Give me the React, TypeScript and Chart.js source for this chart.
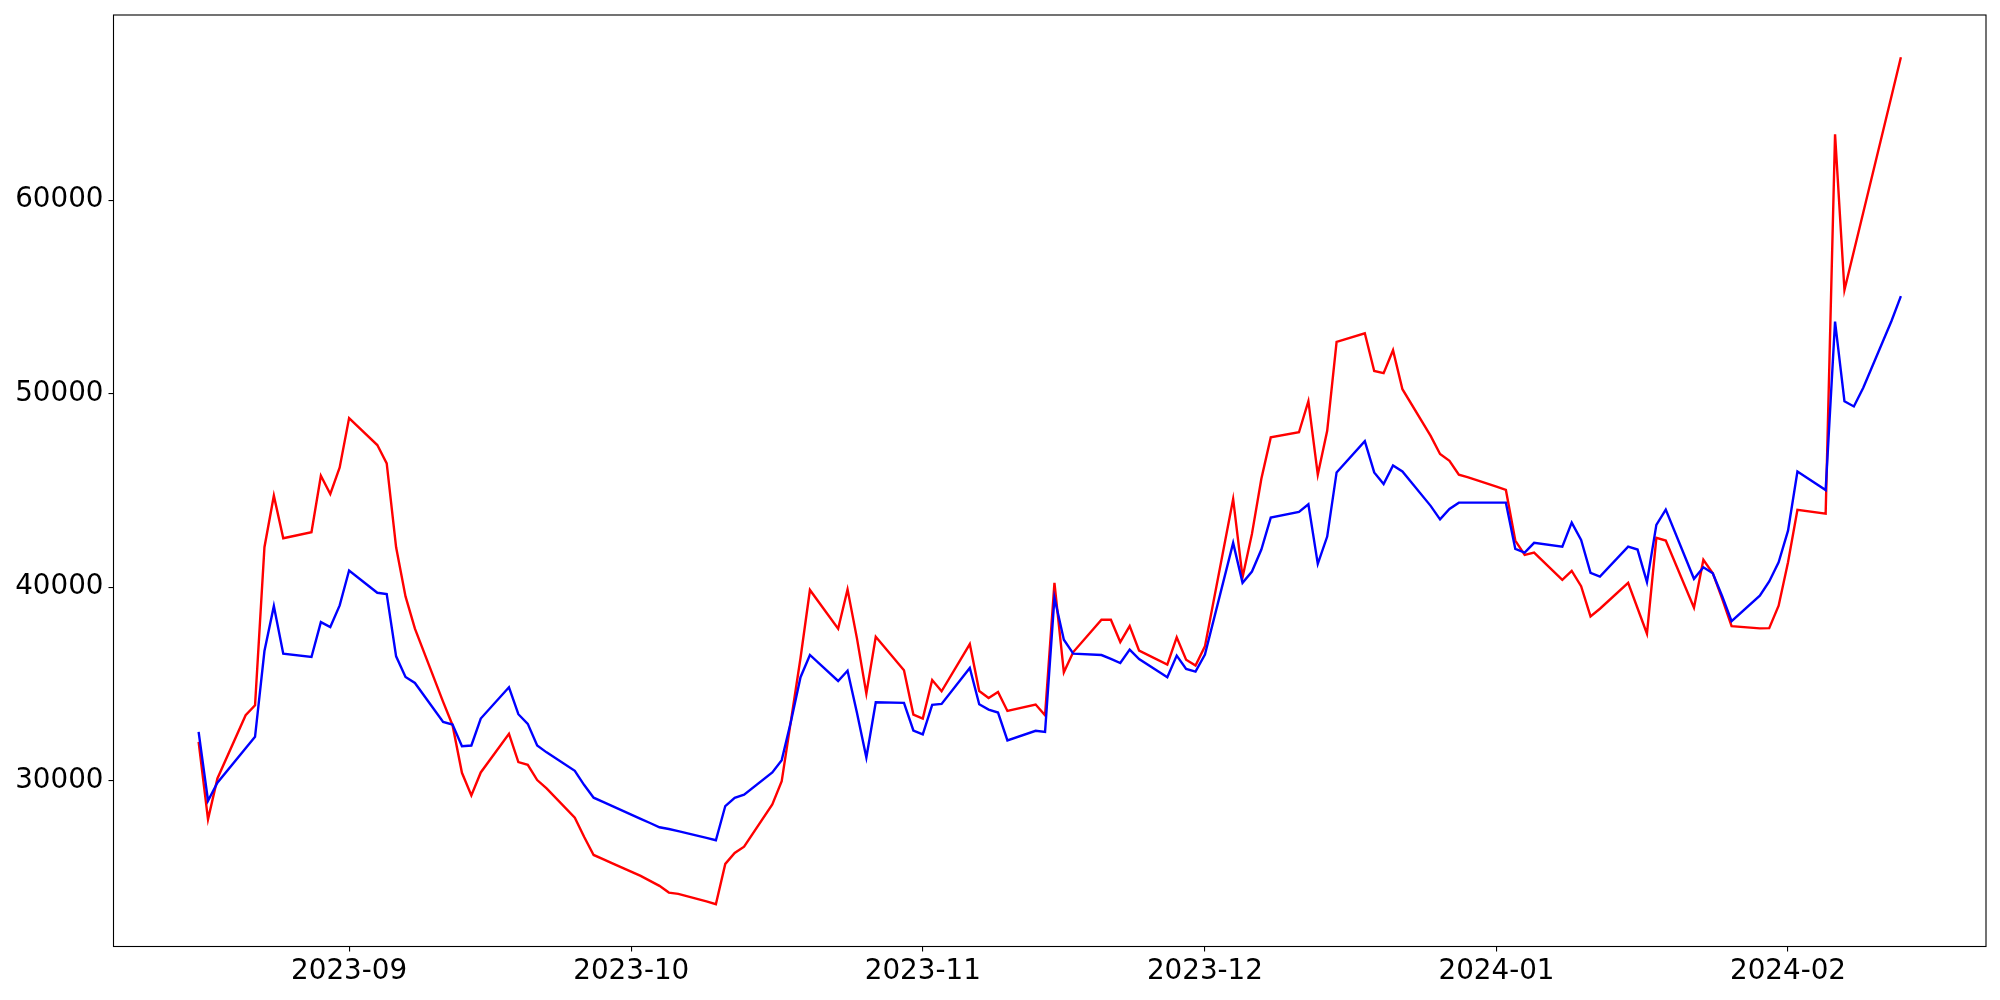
import React, { useEffect, useRef } from 'react';
import { Chart, registerables } from 'chart.js';

Chart.register(...registerables);

const dates = [
  '2023-08-16', '2023-08-17', '2023-08-18', '2023-08-21', '2023-08-22', '2023-08-23', '2023-08-24', '2023-08-25',
  '2023-08-28', '2023-08-29', '2023-08-30', '2023-08-31', '2023-09-01', '2023-09-04', '2023-09-05', '2023-09-06',
  '2023-09-07', '2023-09-08', '2023-09-11', '2023-09-12', '2023-09-13', '2023-09-14', '2023-09-15', '2023-09-18',
  '2023-09-19', '2023-09-20', '2023-09-21', '2023-09-22', '2023-09-25', '2023-09-26', '2023-09-27', '2023-09-28',
  '2023-09-29', '2023-10-02', '2023-10-03', '2023-10-04', '2023-10-05', '2023-10-06', '2023-10-09', '2023-10-10',
  '2023-10-11', '2023-10-12', '2023-10-13', '2023-10-16', '2023-10-17', '2023-10-18', '2023-10-19', '2023-10-20',
  '2023-10-23', '2023-10-24', '2023-10-25', '2023-10-26', '2023-10-27', '2023-10-30', '2023-10-31', '2023-11-01',
  '2023-11-02', '2023-11-03', '2023-11-06', '2023-11-07', '2023-11-08', '2023-11-09', '2023-11-10', '2023-11-13',
  '2023-11-14', '2023-11-15', '2023-11-16', '2023-11-17', '2023-11-20', '2023-11-21', '2023-11-22', '2023-11-23',
  '2023-11-24', '2023-11-27', '2023-11-28', '2023-11-29', '2023-11-30', '2023-12-01', '2023-12-04', '2023-12-05',
  '2023-12-06', '2023-12-07', '2023-12-08', '2023-12-11', '2023-12-12', '2023-12-13', '2023-12-14', '2023-12-15',
  '2023-12-18', '2023-12-19', '2023-12-20', '2023-12-21', '2023-12-22', '2023-12-25', '2023-12-26', '2023-12-27',
  '2023-12-28', '2023-12-29', '2024-01-01', '2024-01-02', '2024-01-03', '2024-01-04', '2024-01-05', '2024-01-08',
  '2024-01-09', '2024-01-10', '2024-01-11', '2024-01-12', '2024-01-15', '2024-01-16', '2024-01-17', '2024-01-18',
  '2024-01-19', '2024-01-22', '2024-01-23', '2024-01-24', '2024-01-25', '2024-01-26', '2024-01-29', '2024-01-30',
  '2024-01-31', '2024-02-01', '2024-02-02', '2024-02-05', '2024-02-06', '2024-02-07', '2024-02-08', '2024-02-09',
  '2024-02-12', '2024-02-13',
];

const redValues = [
  32006, 28004, 30118, 33383, 33899, 42062, 44728, 42526,
  42836, 45760, 44816, 46188, 48735, 47343, 46395, 42062,
  39520, 37854, 34070, 32867, 30409, 29240, 30426, 32420,
  30959, 30821, 30031, 29602, 28087, 27092, 26163, 25951,
  25725, 25080, 24822, 24564, 24219, 24152, 23760, 23620,
  25699, 26266, 26591, 28777, 29979, 33156, 36337, 39855,
  37849, 39886, 37354, 34500, 37441, 35704, 33419, 33213,
  35204, 34621, 37060, 34636, 34275, 34585, 33605, 33935,
  33383, 40227, 35601, 36647, 38318, 38318, 37163, 37988,
  36719, 35997, 37405, 36255, 35946, 36941, 44558, 40515,
  42753, 45605, 47740, 48003, 49612, 45814, 48080, 52670,
  53118, 51174, 51056, 52242, 50231, 47817, 46879, 46533,
  45811, 45672, 45193, 45022, 42408, 41670, 41789, 40380,
  40844, 40051, 38488, 38885, 40226, 38911, 37596, 42547,
  42408, 38937, 41412, 40722, 39401, 37988, 37870, 37885,
  39045, 41289, 43996, 43795, 63402, 55352, 57356, 59360,
  65370, 67378,
];

const blueValues = [
  32522, 28963, 29892, 31681, 32264, 36699, 39020, 36565,
  36390, 38195, 37937, 39056, 40861, 39711, 39639, 36426,
  35358, 35049, 33039, 32902, 31784, 31819, 33213, 34827,
  33435, 32936, 31819, 31464, 30512, 29773, 29120, 28907,
  28690, 28030, 27813, 27592, 27504, 27396, 27045, 26921,
  28690, 29118, 29273, 30428, 31062, 33099, 35348, 36498,
  35152, 35678, 33507, 31200, 34053, 34019, 32594, 32388,
  33916, 33968, 35823, 33950, 33675, 33520, 32078, 32577,
  32524, 39453, 37287, 36565, 36493, 36297, 36080, 36771,
  36287, 35343, 36462, 35771, 35636, 36513, 42289, 40226,
  40809, 41944, 43594, 43888, 44280, 41206, 42614, 45930,
  47549, 45930, 45331, 46291, 45982, 44202, 43506, 44042,
  44367, 44367, 44367, 44367, 41980, 41789, 42289, 42098,
  43336, 42444, 40741, 40551, 42098, 41944, 40258, 43217,
  44006, 40432, 41031, 40722, 39530, 38246, 39556, 40293,
  41289, 42919, 45976, 45017, 53722, 49602, 49338, 50307,
  53753, 55042,
];

const xTickLabels = ['2023-09', '2023-10', '2023-11', '2023-12', '2024-01', '2024-02'];
const yTickValues = [30000, 40000, 50000, 60000];

const DAY_MS = 86400000;
const toDay = (s: string): number => {
  const parts = s.split('-').map(Number);
  return Date.UTC(parts[0], parts[1] - 1, parts[2] || 1) / DAY_MS;
};

const framePlugin = {
  id: 'frame',
  afterDraw(chart: any) {
    const { ctx, chartArea } = chart;
    ctx.save();
    ctx.strokeStyle = '#000000';
    ctx.lineWidth = 1.1;
    ctx.strokeRect(chartArea.left, chartArea.top, chartArea.right - chartArea.left, chartArea.bottom - chartArea.top);
    ctx.restore();
  },
};

export default function App() {
  const canvasRef = useRef<HTMLCanvasElement | null>(null);

  useEffect(() => {
    document.body.style.margin = '0';
    const canvas = canvasRef.current;
    if (!canvas) return;

    const xs = dates.map(toDay);
    const xMinData = Math.min(...xs);
    const xMaxData = Math.max(...xs);
    const xPad = (xMaxData - xMinData) * 0.05;
    const allVals = [...redValues, ...blueValues];
    const yMinData = Math.min(...allVals);
    const yMaxData = Math.max(...allVals);
    const yPad = (yMaxData - yMinData) * 0.05;

    const monthTicks = xTickLabels.map((m) => ({ value: toDay(m + '-01'), label: m }));

    const font = { family: '"DejaVu Sans", sans-serif', size: 27.78 };

    const chart = new Chart(canvas, {
      type: 'line',
      data: {
        datasets: [
          {
            label: 'blue',
            data: xs.map((x, i) => ({ x, y: blueValues[i] })),
            borderColor: '#0000ff',
            borderWidth: 2.4,
            pointRadius: 0,
            tension: 0,
            fill: false,
          },
          {
            label: 'red',
            data: xs.map((x, i) => ({ x, y: redValues[i] })),
            borderColor: '#ff0000',
            borderWidth: 2.4,
            pointRadius: 0,
            tension: 0,
            fill: false,
          },
        ],
      },
      options: {
        animation: false,
        responsive: false,
        devicePixelRatio: 1,
        layout: { padding: { left: 0, right: 14, top: 15, bottom: 0 } },
        plugins: {
          legend: { display: false },
          tooltip: { enabled: false },
        },
        scales: {
          x: {
            type: 'linear',
            min: xMinData - xPad,
            max: xMaxData + xPad,
            border: { display: false },
            grid: {
              display: true,
              drawOnChartArea: false,
              drawTicks: true,
              tickLength: 5,
              color: '#000000',
              lineWidth: 1.1,
            },
            ticks: {
              autoSkip: false,
              maxRotation: 0,
              minRotation: 0,
              padding: 4,
              color: '#000000',
              font,
              callback: (value: any) => {
                const t = monthTicks.find((m) => m.value === value);
                return t ? t.label : '';
              },
            },
            afterBuildTicks: (axis: any) => {
              axis.ticks = monthTicks.map((m) => ({ value: m.value }));
            },
            afterFit: (axis: any) => {
              axis.height = 53.5;
              axis.paddingLeft = 0;
              axis.paddingRight = 0;
            },
          },
          y: {
            type: 'linear',
            min: yMinData - yPad,
            max: yMaxData + yPad,
            border: { display: false },
            grid: {
              display: true,
              drawOnChartArea: false,
              drawTicks: true,
              tickLength: 5,
              color: '#000000',
              lineWidth: 1.1,
            },
            ticks: {
              autoSkip: false,
              padding: 5,
              color: '#000000',
              font,
              callback: (value: any) => String(value),
            },
            afterBuildTicks: (axis: any) => {
              axis.ticks = yTickValues.map((v) => ({ value: v }));
            },
            afterFit: (axis: any) => {
              axis.width = 113.5;
              axis.paddingTop = 0;
              axis.paddingBottom = 0;
            },
          },
        },
      },
      plugins: [framePlugin],
    } as any);

    return () => {
      chart.destroy();
    };
  }, []);

  return (
    <div style={{ width: 2000, height: 1000, background: '#ffffff' }}>
      <canvas ref={canvasRef} width={2000} height={1000} style={{ display: 'block', width: 2000, height: 1000 }} />
    </div>
  );
}
